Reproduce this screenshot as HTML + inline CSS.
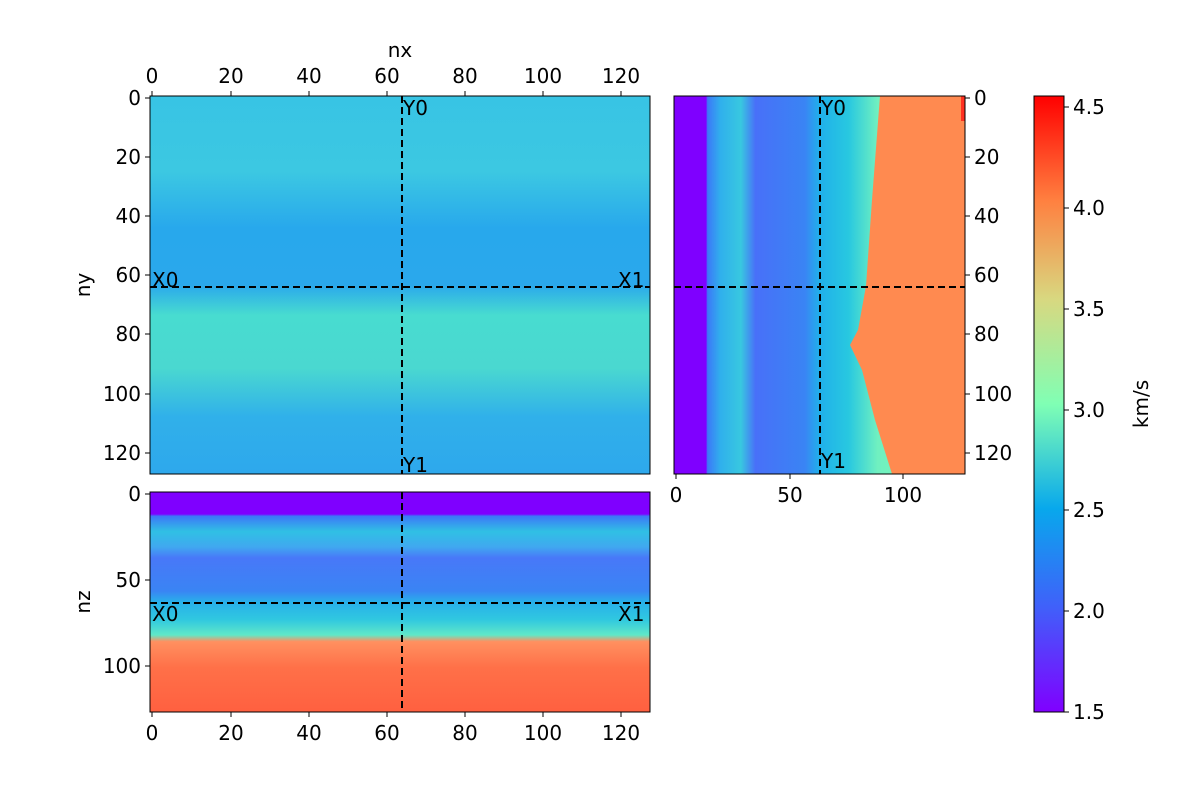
<!DOCTYPE html>
<html><head><style>body{margin:0;background:#fff}svg text{font-family:"DejaVu Sans","Liberation Sans",sans-serif;font-size:20px;fill:#000}</style></head><body>
<svg width="1200" height="800" xmlns="http://www.w3.org/2000/svg">
<defs>
<linearGradient id="gt" x1="0" y1="0" x2="0" y2="1">
<stop offset="0" stop-color="#38c4e4"/><stop offset="0.2" stop-color="#3cc8e2"/><stop offset="0.35" stop-color="#28a8ec"/><stop offset="0.5" stop-color="#2aa8ec"/><stop offset="0.58" stop-color="#48dcd0"/><stop offset="0.72" stop-color="#4ad8d0"/><stop offset="0.85" stop-color="#30b0ea"/><stop offset="1" stop-color="#2ea8ec"/></linearGradient>
<linearGradient id="gr" x1="0" y1="0" x2="1" y2="0">
<stop offset="0" stop-color="#7f00ff"/><stop offset="0.11" stop-color="#7f00ff"/><stop offset="0.115" stop-color="#3c78f8"/><stop offset="0.16" stop-color="#30b0ec"/><stop offset="0.23" stop-color="#38c8e0"/><stop offset="0.28" stop-color="#4870f8"/><stop offset="0.45" stop-color="#3a84f4"/><stop offset="0.5" stop-color="#20b0ea"/><stop offset="0.6" stop-color="#28c8e0"/><stop offset="0.7" stop-color="#70f0c0"/><stop offset="1" stop-color="#80ffb0"/></linearGradient>
<linearGradient id="gb" x1="0" y1="0" x2="0" y2="1">
<stop offset="0" stop-color="#7f00ff"/><stop offset="0.1" stop-color="#7f00ff"/><stop offset="0.11" stop-color="#3c78f8"/><stop offset="0.18" stop-color="#30c0e4"/><stop offset="0.25" stop-color="#40a8f0"/><stop offset="0.3" stop-color="#4878f8"/><stop offset="0.45" stop-color="#3a84f4"/><stop offset="0.5" stop-color="#28b0ea"/><stop offset="0.58" stop-color="#30c8e0"/><stop offset="0.65" stop-color="#60e8c8"/><stop offset="0.68" stop-color="#ff9060"/><stop offset="0.8" stop-color="#ff7048"/><stop offset="1" stop-color="#ff6040"/></linearGradient>
<linearGradient id="gc" x1="0" y1="1" x2="0" y2="0">
<stop offset="0" stop-color="#8000ff"/><stop offset="0.17" stop-color="#4060fa"/><stop offset="0.33" stop-color="#08a8ec"/><stop offset="0.5" stop-color="#80ffb4"/><stop offset="0.67" stop-color="#d8d880"/><stop offset="0.83" stop-color="#ff8040"/><stop offset="1" stop-color="#ff0000"/></linearGradient>
</defs>
<rect x="150" y="96" width="500" height="378" fill="url(#gt)"/>
<rect x="150" y="96" width="500" height="378" fill="none" stroke="#000"/>
<rect x="674" y="96" width="291" height="378" fill="url(#gr)"/>
<polygon points="880,96 965,96 965,474 892,474 875,420 862,370 850,345 858,330 866,286 872,200" fill="#ff8a50"/>
<rect x="961" y="96" width="4" height="25" fill="#ff3020"/>
<rect x="674" y="96" width="291" height="378" fill="none" stroke="#000"/>
<rect x="150" y="492" width="500" height="220" fill="url(#gb)"/>
<rect x="150" y="492" width="500" height="220" fill="none" stroke="#000"/>
<g stroke="#000" stroke-width="2" stroke-dasharray="7,4" fill="none">
<line x1="402" y1="96" x2="402" y2="474"/><line x1="150" y1="287" x2="650" y2="287"/>
<line x1="820" y1="96" x2="820" y2="474"/><line x1="674" y1="287" x2="965" y2="287"/>
<line x1="402" y1="492" x2="402" y2="712"/><line x1="150" y1="603" x2="650" y2="603"/>
</g>
<text x="403" y="115">Y0</text><text x="403" y="472">Y1</text><text x="152" y="287">X0</text><text x="618" y="287">X1</text>
<text x="821" y="115">Y0</text><text x="821" y="468">Y1</text>
<text x="152" y="621">X0</text><text x="618" y="621">X1</text>
<g stroke="#000">
<line x1="152" y1="96" x2="152" y2="91"/><line x1="231" y1="96" x2="231" y2="91"/><line x1="309" y1="96" x2="309" y2="91"/><line x1="387" y1="96" x2="387" y2="91"/><line x1="465" y1="96" x2="465" y2="91"/><line x1="543" y1="96" x2="543" y2="91"/><line x1="621" y1="96" x2="621" y2="91"/>
<line x1="150" y1="98" x2="145" y2="98"/><line x1="150" y1="157" x2="145" y2="157"/><line x1="150" y1="216" x2="145" y2="216"/><line x1="150" y1="275" x2="145" y2="275"/><line x1="150" y1="334" x2="145" y2="334"/><line x1="150" y1="394" x2="145" y2="394"/><line x1="150" y1="453" x2="145" y2="453"/>
<line x1="965" y1="98" x2="970" y2="98"/><line x1="965" y1="157" x2="970" y2="157"/><line x1="965" y1="216" x2="970" y2="216"/><line x1="965" y1="275" x2="970" y2="275"/><line x1="965" y1="334" x2="970" y2="334"/><line x1="965" y1="394" x2="970" y2="394"/><line x1="965" y1="453" x2="970" y2="453"/>
<line x1="676" y1="474" x2="676" y2="479"/><line x1="790" y1="474" x2="790" y2="479"/><line x1="903" y1="474" x2="903" y2="479"/>
<line x1="150" y1="494" x2="145" y2="494"/><line x1="150" y1="580" x2="145" y2="580"/><line x1="150" y1="666" x2="145" y2="666"/>
<line x1="152" y1="712" x2="152" y2="717"/><line x1="231" y1="712" x2="231" y2="717"/><line x1="309" y1="712" x2="309" y2="717"/><line x1="387" y1="712" x2="387" y2="717"/><line x1="465" y1="712" x2="465" y2="717"/><line x1="543" y1="712" x2="543" y2="717"/><line x1="621" y1="712" x2="621" y2="717"/>
<line x1="1064" y1="712" x2="1069" y2="712"/><line x1="1064" y1="611" x2="1069" y2="611"/><line x1="1064" y1="510" x2="1069" y2="510"/><line x1="1064" y1="410" x2="1069" y2="410"/><line x1="1064" y1="309" x2="1069" y2="309"/><line x1="1064" y1="208" x2="1069" y2="208"/><line x1="1064" y1="107" x2="1069" y2="107"/>
</g>
<g text-anchor="middle">
<text x="152" y="83">0</text><text x="231" y="83">20</text><text x="309" y="83">40</text><text x="387" y="83">60</text><text x="465" y="83">80</text><text x="543" y="83">100</text><text x="621" y="83">120</text>
<text x="400" y="57">nx</text>
<text x="676" y="502">0</text><text x="790" y="502">50</text><text x="903" y="502">100</text>
<text x="152" y="740">0</text><text x="231" y="740">20</text><text x="309" y="740">40</text><text x="387" y="740">60</text><text x="465" y="740">80</text><text x="543" y="740">100</text><text x="621" y="740">120</text>
</g>
<g text-anchor="end">
<text x="141" y="105">0</text><text x="141" y="164">20</text><text x="141" y="223">40</text><text x="141" y="282">60</text><text x="141" y="341">80</text><text x="141" y="401">100</text><text x="141" y="460">120</text>
<text x="141" y="501">0</text><text x="141" y="587">50</text><text x="141" y="673">100</text>
</g>
<g>
<text x="974" y="105">0</text><text x="974" y="164">20</text><text x="974" y="223">40</text><text x="974" y="282">60</text><text x="974" y="341">80</text><text x="974" y="401">100</text><text x="974" y="460">120</text>
<text x="1073" y="719">1.5</text><text x="1073" y="618">2.0</text><text x="1073" y="517">2.5</text><text x="1073" y="417">3.0</text><text x="1073" y="316">3.5</text><text x="1073" y="215">4.0</text><text x="1073" y="114">4.5</text>
</g>
<text transform="translate(90,285) rotate(-90)" text-anchor="middle">ny</text>
<text transform="translate(90,602) rotate(-90)" text-anchor="middle">nz</text>
<text transform="translate(1148,404) rotate(-90)" text-anchor="middle">km/s</text>
<rect x="1034" y="96" width="30" height="616" fill="url(#gc)" stroke="#000"/>
</svg>
</body></html>
